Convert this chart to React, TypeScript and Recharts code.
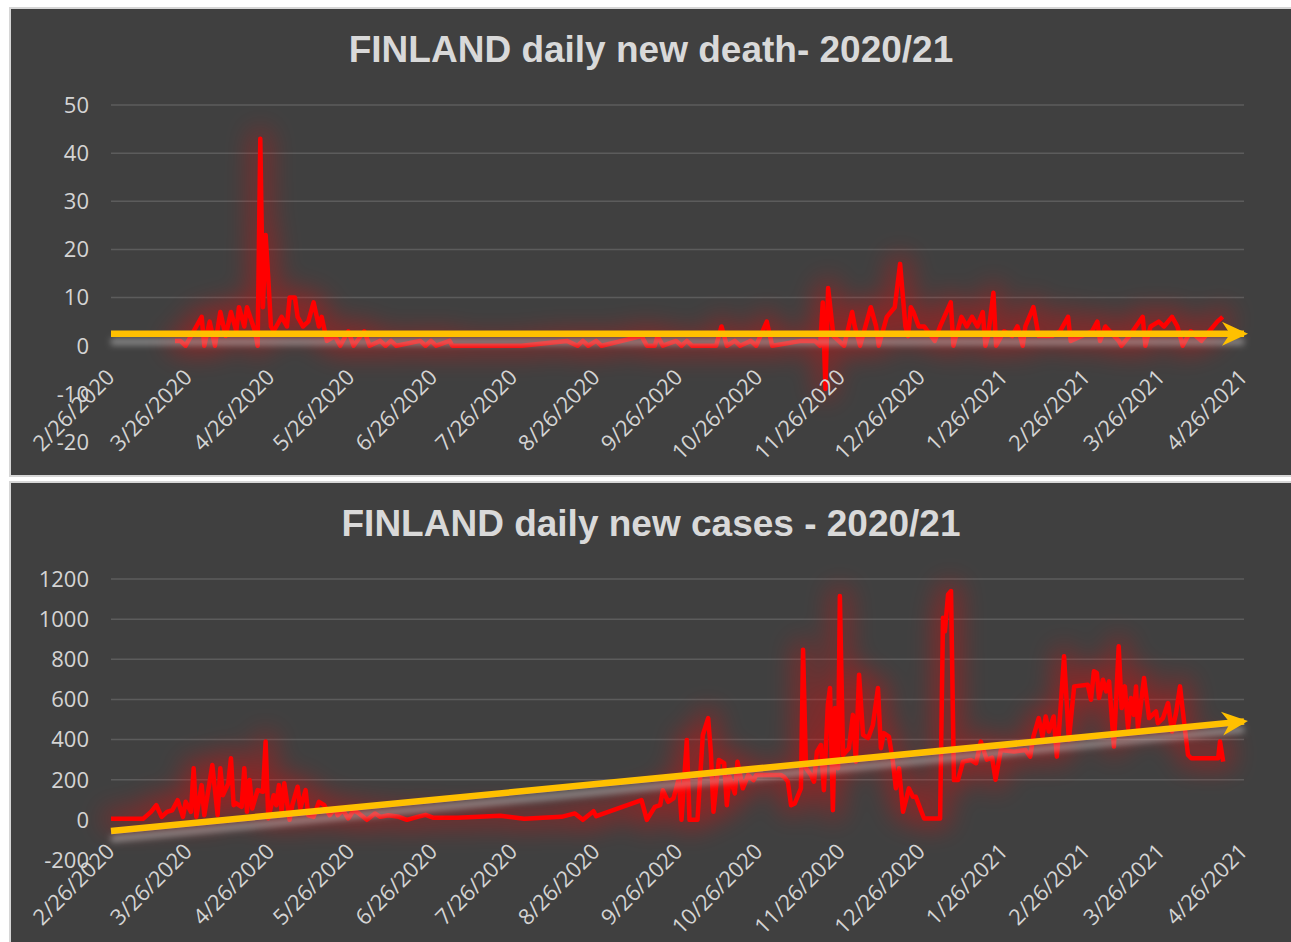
import { LineChart, Line, XAxis, YAxis, ReferenceLine } from 'recharts';

// x values are days since 2/26/2020
const tickLabels = [
  '2/26/2020', '3/26/2020', '4/26/2020', '5/26/2020', '6/26/2020', '7/26/2020', '8/26/2020',
  '9/26/2020', '10/26/2020', '11/26/2020', '12/26/2020', '1/26/2021', '2/26/2021', '3/26/2021', '4/26/2021',
];

const deathDays = [
  24, 26, 28, 31, 34, 35, 37, 39, 41, 43, 45, 47, 48, 50, 51, 54, 55, 56, 57, 58,
  59, 60, 61, 64, 66, 67, 69, 70, 72, 74, 76, 78, 79, 81, 84, 86, 89, 91, 95, 97,
  101, 103, 105, 107, 116, 118, 120, 122, 127, 128, 154, 171, 175, 177, 179, 182, 184, 199, 201, 204,
  205, 207, 212, 214, 216, 218, 227, 229, 231, 234, 236, 240, 242, 246, 248, 259, 264, 266, 267, 268,
  269, 271, 275, 278, 279, 281, 283, 285, 287, 288, 291, 294, 296, 298, 299, 300, 301, 303, 305, 309,
  311, 315, 316, 319, 321, 323, 325, 327, 328, 329, 331, 332, 335, 338, 340, 342, 343, 346, 348, 349,
  353, 356, 359, 360, 364, 368, 370, 371, 373, 378, 379, 382, 387, 388, 390, 393, 395, 398, 400, 402,
  405, 409, 412, 415, 417,
];
const deathValues = [
  1, 1, 0, 3, 6, 0, 5, 0, 7, 2, 7, 3, 8, 4, 8, 3, 0, 43, 8, 23,
  14, 4, 3, 6, 4, 10, 10, 6, 4, 5, 9, 4, 6, 1, 2, 0, 3, 0, 3, 0,
  1, 0, 1, 0, 1, 0, 1, 0, 1, 0, 0, 1, 0, 1, 0, 1, 0, 2, 0, 0,
  2, 0, 1, 0, 1, 0, 0, 4, 0, 1, 0, 1, 0, 5, 0, 1, 1, 0, 9, -9,
  12, 2, 0, 7, 4, 0, 4, 8, 4, 0, 6, 8, 17, 4, 2, 8, 7, 4, 4, 1,
  4, 9, 0, 6, 4, 6, 4, 7, 0, 2, 11, 0, 3, 2, 4, 0, 4, 8, 2, 2,
  2, 3, 6, 1, 2, 3, 5, 1, 4, 1, 0, 2, 6, 0, 4, 5, 4, 6, 4, 0,
  3, 1, 3, 5, 6,
];

const caseDays = [
  0, 12, 15, 17, 19, 21, 23, 25, 27, 28, 30, 31, 32, 34, 35, 38, 40, 41, 42, 44,
  45, 46, 47, 49, 50, 51, 52, 53, 55, 57, 58, 59, 61, 62, 63, 64, 65, 67, 68, 70,
  71, 73, 74, 76, 78, 80, 82, 84, 85, 87, 89, 91, 93, 96, 99, 101, 104, 108, 111, 115,
  118, 121, 130, 146, 155, 169, 174, 177, 181, 182, 199, 201, 204, 206, 207, 209, 211, 213, 214, 216,
  217, 220, 222, 224, 225, 226, 228, 230, 231, 232, 234, 235, 237, 239, 241, 242, 250, 251.3, 252.4, 253.9,
  255.1, 256.5, 258.8, 259.6, 260.7, 262.6, 263.7, 264.8, 266.3, 267.4, 268.9, 269.7, 270.8, 271.6, 272.7, 273.4, 274.6, 276.8, 278.3, 279.4,
  280.6, 282.1, 284, 285.8, 287.7, 288.8, 289.9, 291.8, 293.3, 294.4, 295.6, 297.1, 299.3, 300.8, 301.9, 303.8, 305, 311, 312.1, 312.8,
  314, 315.1, 316.2, 317.7, 319.6, 322.6, 324.5, 326.3, 328.5, 330.5, 331.8, 333.8, 338.7, 343, 344.8, 346, 348, 349.4, 350.6, 351.8,
  353.6, 354.8, 355.5, 357.5, 359.3, 361.3, 366.4, 367.6, 368.7, 369.8, 370.6, 372.1, 373.3, 374.4, 376.2, 378, 379.1, 380.3, 381.5, 382.6,
  383.7, 384.5, 385.2, 387.5, 389.4, 392, 392.7, 394.6, 396.5, 398, 399.5, 401, 402.5, 404, 405.2, 415.3, 416, 417.2,
];
const caseValues = [
  5, 5, 40, 73, 15, 40, 48, 98, 15, 90, 40, 257, 15, 173, 23, 273, 23, 257, 123, 182,
  307, 73, 82, 65, 257, 40, 198, 57, 148, 140, 390, 7, 123, 73, 173, 40, 182, 0, 73, 165,
  57, 148, 23, 15, 90, 73, 23, 57, 23, 48, 7, 48, 32, 0, 32, 15, 23, 15, 0, 15,
  25, 10, 10, 20, 5, 15, 32, 0, 43, 18, 98, 0, 65, 73, 148, 90, 107, 207, 0, 398,
  0, 0, 423, 507, 340, 40, 298, 282, 73, 215, 132, 290, 157, 223, 198, 223, 223, 223, 215, 190,
  73, 82, 157, 848, 257, 223, 190, 340, 373, 148, 573, 657, 48, 557, 257, 1115, 323, 357, 523, 290,
  723, 423, 407, 473, 657, 357, 432, 415, 290, 157, 257, 40, 157, 115, 115, 48, 7, 7, 1007, 940,
  1123, 1140, 198, 198, 290, 298, 282, 390, 300, 310, 200, 348, 340, 348, 315, 415, 507, 415, 515, 440,
  515, 315, 423, 815, 398, 665, 673, 598, 740, 732, 607, 698, 640, 690, 365, 865, 557, 665, 457, 607,
  523, 665, 457, 707, 507, 540, 482, 507, 582, 440, 532, 665, 490, 323, 307, 307, 390, 290,
];

// linear trend lines (start / end of range)
const trendDays = [0, 425];
const deathTrend = [2.5, 2.5];
const caseTrend = [-55, 490];

const deathTicks = [-20, -10, 0, 10, 20, 30, 40, 50];
const caseTicks = [-200, 0, 200, 400, 600, 800, 1000, 1200];

const dayOf = (s: string) => {
  const [m, d, y] = s.split('/').map(Number);
  return Math.round((Date.UTC(y, m - 1, d) - Date.UTC(2020, 1, 26)) / 86400000);
};
const tickDays = tickLabels.map(dayOf);

const AXIS_FONT = '"Open Sans", "Noto Sans", sans-serif';
const TEXT = '#d4d4d4';
const PANEL_W = 1280;
const PLOT_TOP = 96;

function DateTick(props: any) {
  const { x, y, payload, lift } = props;
  const i = tickDays.indexOf(payload.value);
  const tx = x + 5;
  const ty = y - lift;
  return (
    <text x={tx} y={ty} transform={`rotate(-45, ${tx}, ${ty})`} textAnchor="end"
      fill={TEXT} fontSize={22} fontFamily={AXIS_FONT}>
      {i >= 0 ? tickLabels[i] : ''}
    </text>
  );
}

function ArrowHead(props: any) {
  const { cx, cy, index, points } = props;
  const last = points ? points.length - 1 : 1;
  if (index !== last || cx == null) return <g key={`a${index}`} />;
  let angle = 0;
  if (points && points.length > 1) {
    const p0 = points[0];
    angle = (Math.atan2(cy - p0.y, cx - p0.x) * 180) / Math.PI;
  }
  return (
    <polygon key={`a${index}`} points="4,0 -22,-12 -14,0 -22,12"
      transform={`translate(${cx},${cy}) rotate(${angle})`} fill="#ffc000" />
  );
}

interface PanelProps {
  title: string;
  top: number;
  height: number;
  axisHeight: number;
  days: number[];
  values: number[];
  trend: number[];
  ticks: number[];
}

function Panel({ title, top, height, axisHeight, days, values, trend, ticks }: PanelProps) {
  const data = days.map((d, i) => ({ day: d, v: values[i] }));
  const trendData = trendDays.map((d, i) => ({ day: d, v: trend[i] }));
  const yMin = ticks[0];
  const yMax = ticks[ticks.length - 1];
  const plotH = height - PLOT_TOP - axisHeight;
  const lift = (plotH * (0 - yMin)) / (yMax - yMin) - 33;
  const gridValues = ticks.filter((t) => t > 0);

  return (
    <div style={{ position: 'absolute', left: 11, top, width: PANEL_W, height, background: '#404040', outline: '2px solid #d6d6d6' }}>
      <div style={{ position: 'absolute', top: 20, left: 0, width: '100%', textAlign: 'center',
        font: 'bold 37px "Liberation Sans", Arial, sans-serif', color: '#d9d9d9' }}>
        {title}
      </div>
      <div style={{ position: 'absolute', left: 0, top: 0 }}>
        <LineChart width={PANEL_W} height={height} margin={{ top: PLOT_TOP, right: 47, left: 0, bottom: 0 }}>
          <XAxis type="number" dataKey="day" domain={[0, 425]} ticks={tickDays} interval={0}
            height={axisHeight} axisLine={false} tickLine={false} tickSize={0} tickMargin={0}
            tick={<DateTick lift={lift} />} />
          <YAxis type="number" domain={[yMin, yMax]} ticks={ticks} interval={0} width={100}
            axisLine={false} tickLine={false} tickSize={0} tickMargin={22}
            tick={{ fill: TEXT, fontSize: 22, fontFamily: AXIS_FONT }} />
          {gridValues.map((g) => (
            <ReferenceLine key={g} y={g} stroke="#5c5c5c" strokeWidth={1.5} />
          ))}
          <Line data={data} dataKey="v" type="linear" stroke="#ff0000" strokeWidth={4.5}
            strokeLinejoin="round" dot={false} className="redSeries" isAnimationActive={false} />
          <Line data={trendData} dataKey="v" type="linear" stroke="#ffc000" strokeWidth={6.5}
            dot={ArrowHead} activeDot={false} className="trendSeries" isAnimationActive={false} />
        </LineChart>
      </div>
    </div>
  );
}

export default function App() {
  return (
    <div style={{ position: 'absolute', left: 0, top: 0, width: 1291, height: 942, background: '#ffffff', overflow: 'hidden' }}>
      <style>{`
        .redSeries .recharts-line-curve { filter: url(#redGlow); }
        .trendSeries .recharts-line-curve { filter: url(#trendShadow); }
      `}</style>
      <svg width="0" height="0" style={{ position: 'absolute' }}>
        <defs>
          <filter id="redGlow" filterUnits="userSpaceOnUse" x="-100" y="-100" width="1500" height="700">
            <feMorphology in="SourceGraphic" operator="dilate" radius="6" result="fat" />
            <feGaussianBlur in="fat" stdDeviation="13" result="blur" />
            <feComponentTransfer in="blur" result="glow">
              <feFuncA type="linear" slope="0.38" />
            </feComponentTransfer>
            <feMerge>
              <feMergeNode in="glow" />
              <feMergeNode in="SourceGraphic" />
            </feMerge>
          </filter>
          <filter id="trendShadow" filterUnits="userSpaceOnUse" x="-100" y="-100" width="1500" height="700">
            <feDropShadow dx="0" dy="8" stdDeviation="3" floodColor="#c8c8c8" floodOpacity="0.55" />
          </filter>
        </defs>
      </svg>
      <Panel title="FINLAND daily new death- 2020/21" top={9} height={466} axisHeight={33}
        days={deathDays} values={deathValues} trend={deathTrend} ticks={deathTicks} />
      <Panel title="FINLAND daily new cases - 2020/21" top={483} height={462} axisHeight={85}
        days={caseDays} values={caseValues} trend={caseTrend} ticks={caseTicks} />
    </div>
  );
}
